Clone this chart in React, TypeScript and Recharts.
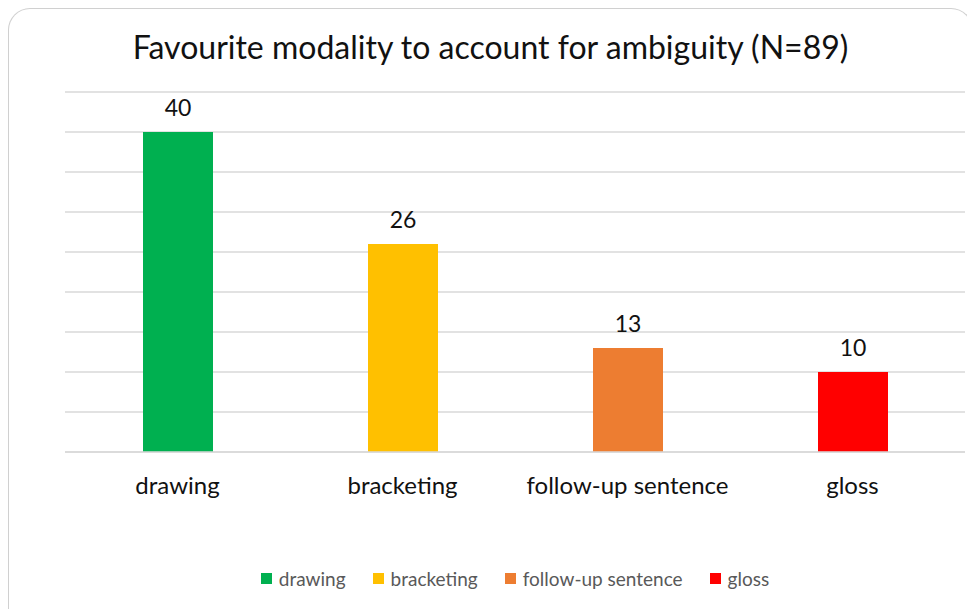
import { BarChart, Bar, XAxis, YAxis, CartesianGrid, Legend, LabelList, Cell } from 'recharts';

// Values
const categories = ['drawing', 'bracketing', 'follow-up sentence', 'gloss'];
const counts = [40, 26, 13, 10];
const colors = ['#00B050', '#FFC000', '#ED7D31', '#FF0000'];
const yTicks = [0, 5, 10, 15, 20, 25, 30, 35, 40, 45];

const data = categories.map((name, i) => ({ name, value: counts[i] }));

const FONT = 'Lato, "Open Sans", sans-serif';

// Excel-style legend: small square + grey label
const renderLegend = () => (
  <div style={{ display: 'flex', justifyContent: 'center', gap: 27, fontFamily: FONT, fontSize: 19, color: '#595959', lineHeight: '27px' }}>
    {categories.map((c, i) => (
      <div key={c} style={{ display: 'flex', alignItems: 'center', gap: 7 }}>
        <span style={{ width: 11, height: 11, background: colors[i], display: 'inline-block' }} />
        <span>{c}</span>
      </div>
    ))}
  </div>
);

export default function App() {
  return (
    <div style={{
      position: 'relative', width: 963, height: 600,
      border: '1px solid #d0d0d0', borderBottom: 'none',
      borderRadius: '22px 22px 0 0', background: 'white',
    }}>
      <div style={{
        position: 'absolute', top: 18, left: 0, width: 963, textAlign: 'center',
        fontFamily: FONT, fontSize: 32, color: '#111',
      }}>
        Favourite modality to account for ambiguity (N=89)
      </div>

      <BarChart width={963} height={600} data={data}
        margin={{ top: 83, right: 7, left: 56, bottom: 17 }}>
        <CartesianGrid vertical={false} stroke="#d9d9d9" strokeWidth={1.5} />
        <YAxis hide domain={[0, 45]} ticks={yTicks} />
        <XAxis dataKey="name" height={113} tickLine={false}
          axisLine={{ stroke: '#d9d9d9', strokeWidth: 1.5 }}
          tickMargin={19}
          tick={{ fontFamily: FONT, fontSize: 24, fill: '#111' }} interval={0} />
        <Legend verticalAlign="bottom" content={renderLegend} />
        <Bar dataKey="value" barSize={70} isAnimationActive={false}>
          {data.map((d, i) => <Cell key={d.name} fill={colors[i]} />)}
          <LabelList dataKey="value" position="top" offset={16}
            style={{ fontFamily: FONT, fontSize: 23, fill: '#111' }} />
        </Bar>
      </BarChart>
    </div>
  );
}
